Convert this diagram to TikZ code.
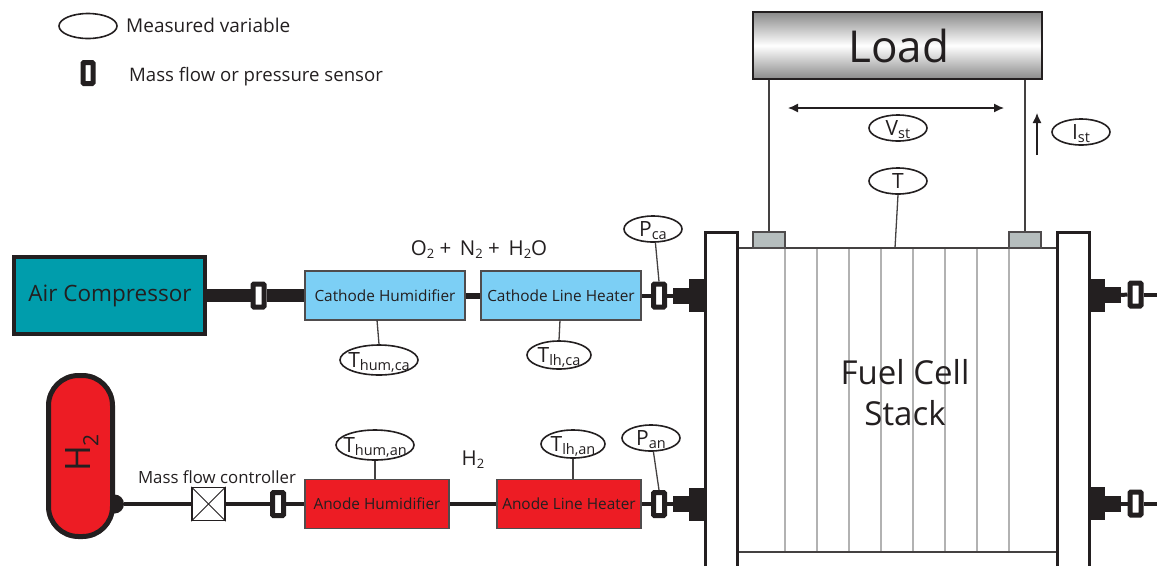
\documentclass[tikz,border=0pt]{standalone}
\usepackage{fontspec}
\setmainfont{Open Sans}
\usetikzlibrary{shapes.geometric,arrows.meta}

% Text of a measured variable, kept from stretching its ellipse
\newcommand{\meas}[2]{\makebox[0pt][c]{\raisebox{-7pt}[0pt][0pt]{#1\raisebox{-3pt}{\fontsize{14.5}{14.5}\selectfont #2}}}}
\newcommand{\gasname}[2]{#1\raisebox{-3pt}{\fontsize{13}{13}\selectfont #2}}

\tikzset{
	measvar/.style={draw=inkcolor, line width=1.6pt, ellipse, fill=white, inner sep=0pt, minimum width=58pt, minimum height=26pt, text=inkcolor, font=\fontsize{21}{21}\selectfont},
	sensorbox/.style={draw=inkcolor, line width=5pt, rounded corners=1pt, fill=white, inner sep=0pt, minimum width=11pt, minimum height=23pt},
	unitbox/.style={draw=inkcolor!80, line width=1.3pt, inner sep=0pt, minimum width=160pt, minimum height=49pt, text=inkcolor, font=\fontsize{15.4}{15.4}\selectfont},
	portflange/.style={fill=inkcolor, inner sep=0pt, minimum width=17pt, minimum height=33pt},
	portneck/.style={fill=inkcolor, inner sep=0pt, minimum width=16pt, minimum height=16pt},
	pipe/.style={draw=inkcolor, line width=4pt},
	wire/.style={draw=inkcolor!85, line width=1.3pt},
	plate/.style={draw=inkcolor, line width=3pt, line join=miter},
	cellline/.style={draw=black!30, line width=1.1pt},
	flowtip/.style={line width=1.3pt, draw=inkcolor, arrows={-{Latex[length=10pt,width=9pt]}}},
}

\begin{document}
\begin{tikzpicture}[x=1pt,y=-1pt]
	% Define colors for segments
	\definecolor{inkcolor}{RGB}{35, 31, 32}
	\definecolor{aircolor}{RGB}{0, 157, 172}
	\definecolor{cathodecolor}{RGB}{124, 207, 245}
	\definecolor{anodecolor}{RGB}{237, 28, 36}
	\definecolor{terminalcolor}{RGB}{182, 190, 190}
	\definecolor{loadcolor}{RGB}{138, 138, 138}

	\useasboundingbox (0,0) rectangle (1157,566);

	% Legend
	\node[measvar, minimum height=25pt] (legendvar) at (88,26) {};
	\node[anchor=west, text=inkcolor, font=\fontsize{19}{19}\selectfont, inner sep=0pt] (legendvartext) at (126,25) {Measured variable};
	\node[sensorbox, minimum width=10pt, minimum height=21pt] (legendsensor) at (88,73) {};
	\node[anchor=west, text=inkcolor, font=\fontsize{18.6}{18.6}\selectfont, inner sep=0pt] (legendsensortext) at (129,77) {Mass flow or pressure sensor};

	% Load
	\node[draw=inkcolor, line width=1.3pt, top color=loadcolor, bottom color=loadcolor, middle color=white, inner sep=0pt, minimum width=289pt, minimum height=67pt] (load) at (897.5,45.5) {};
	\node[text=inkcolor, font=\fontsize{44}{44}\selectfont] (loadlabel) at (899,46) {Load};

	% Fuel cell stack
	\draw[cellline] (785,248) -- (785,552);
	\draw[cellline] (817,248) -- (817,552);
	\draw[cellline] (849,248) -- (849,552);
	\draw[cellline] (881,248) -- (881,552);
	\draw[cellline] (913,248) -- (913,552);
	\draw[cellline] (945,248) -- (945,552);
	\draw[cellline] (977,248) -- (977,552);
	\draw[cellline] (1009,248) -- (1009,552);
	\node[draw=inkcolor!85, line width=1.3pt, inner sep=0pt, minimum width=320pt, minimum height=304pt] (stack) at (897,400) {};
	\node[align=center, text=inkcolor, font=\fontsize{33}{41}\selectfont] (stacklabel) at (905,393) {Fuel Cell\\Stack};

	% End plates
	\draw[plate] (705,566) -- (705,232) -- (737,232) -- (737,566);
	\draw[plate] (1057,566) -- (1057,232) -- (1089,232) -- (1089,566);

	% Terminals and wires to the load
	\node[draw=inkcolor!80, line width=1.2pt, fill=terminalcolor, inner sep=0pt, minimum width=32pt, minimum height=16pt] (termleft) at (769,240) {};
	\node[draw=inkcolor!80, line width=1.2pt, fill=terminalcolor, inner sep=0pt, minimum width=32pt, minimum height=16pt] (termright) at (1025,240) {};
	\draw[wire] (load.south -| termleft) -- (termleft);
	\draw[wire] (load.south -| termright) -- (termright);
	\coordinate (vleft) at (788,108);
	\coordinate (vright) at (1004,108);
	\draw[flowtip, arrows={{Latex[length=10pt,width=9pt]}-{Latex[length=10pt,width=9pt]}}] (vleft) -- (vright);
	\coordinate (ibottom) at (1037,155);
	\coordinate (itop) at (1037,113);
	\draw[flowtip] (ibottom) -- (itop);
	\node[measvar] (vst) at (898,128) {\meas{V}{st}};
	\node[measvar] (ist) at (1081,132) {\meas{I}{st}};
	\node[measvar] (tstack) at (898,181) {\meas{T}{}};
	\coordinate (tstackend) at (895,248);
	\draw[wire] (tstack.south) -- (tstackend);

	% Cathode line
	\node[draw=inkcolor, line width=4pt, fill=aircolor, inner sep=0pt, minimum width=191pt, minimum height=77pt] (compressor) at (109.5,295) {};
	\node[text=inkcolor, font=\fontsize{22.5}{22.5}\selectfont] (compressorlabel) at (110,296) {Air Compressor};
	\node[sensorbox] (sensorair) at (258.5,295.5) {};
	\node[unitbox, fill=cathodecolor] (cathhum) at (385,295.5) {Cathode Humidifier};
	\node[unitbox, fill=cathodecolor] (cathheat) at (561,295.5) {Cathode Line Heater};
	\node[sensorbox] (sensorca) at (659,295.5) {};
	\node[portneck] (neckca) at (681,295.5) {};
	\node[portflange] (flangeca) at (697,295.5) {};
	\draw[pipe, line width=13pt] (compressor.east |- sensorair) -- (sensorair);
	\draw[pipe, line width=13pt] (sensorair) -- (cathhum);
	\draw[pipe, line width=6pt] (cathhum) -- (cathheat);
	\draw[pipe] (cathheat) -- (sensorca);
	\draw[pipe] (sensorca) -- (neckca);
	\node[anchor=center, text=inkcolor, font=\fontsize{20.5}{20.5}\selectfont] (gasca) at (479,250) {\gasname{O}{2} + \,\gasname{N}{2} + \,\gasname{H}{2}O};

	\node[measvar, minimum width=78pt, minimum height=30pt] (thumca) at (379,360) {\meas{T}{hum,ca}};
	\coordinate (thumcaend) at (377,320);
	\draw[wire] (thumca.north) -- (thumcaend);
	\node[measvar, minimum width=64pt, minimum height=28pt] (tlhca) at (559,355) {\meas{T}{lh,ca}};
	\coordinate (tlhcaend) at (560,320);
	\draw[wire] (tlhca.north) -- (tlhcaend);
	\node[measvar] (pca) at (653,229) {\meas{P}{ca}};
	\draw[wire] (pca.280) -- (sensorca.north);

	% Anode line
	\node[circle, fill=inkcolor, inner sep=0pt, minimum size=19pt] (tankvalve) at (114.5,504) {};
	\node[draw=inkcolor, line width=5pt, fill=anodecolor, rounded corners=30pt, inner sep=0pt, minimum width=64pt, minimum height=161pt] (tank) at (80.5,456) {};
	\node[rotate=90, text=inkcolor, font=\fontsize{35}{35}\selectfont] (tanklabel) at (82,453) {H\raisebox{-8pt}{\fontsize{21}{21}\selectfont 2}};
	\node[draw=inkcolor, line width=1.3pt, fill=white, inner sep=0pt, minimum size=33pt] (mfc) at (208.5,504) {};
	\draw[line width=1pt, draw=inkcolor] (mfc.north west) -- (mfc.south east);
	\draw[line width=1pt, draw=inkcolor] (mfc.north east) -- (mfc.south west);
	\node[text=inkcolor, font=\fontsize{16.8}{16.8}\selectfont] (mfclabel) at (217,477) {Mass flow controller};
	\node[sensorbox] (sensormfc) at (278,504) {};
	\node[unitbox, fill=anodecolor, minimum width=144pt] (anhum) at (377,504) {Anode Humidifier};
	\node[unitbox, fill=anodecolor, minimum width=144pt] (anheat) at (569,504) {Anode Line Heater};
	\node[sensorbox] (sensoran) at (659,504) {};
	\node[portneck] (neckan) at (681,504) {};
	\node[portflange] (flangean) at (697,504) {};
	\draw[pipe] (tankvalve) -- (mfc);
	\draw[pipe] (mfc) -- (sensormfc);
	\draw[pipe] (sensormfc) -- (anhum);
	\draw[pipe] (anhum) -- (anheat);
	\draw[pipe] (anheat) -- (sensoran);
	\draw[pipe] (sensoran) -- (neckan);
	\node[text=inkcolor, font=\fontsize{20.5}{20.5}\selectfont] (gasan) at (473,460) {\gasname{H}{2}};

	\node[measvar, minimum width=78pt, minimum height=30pt] (thuman) at (375,445) {\meas{T}{hum,an}};
	\draw[wire] (thuman.south) -- (thuman.south |- anhum.north);
	\node[measvar, minimum width=64pt, minimum height=28pt] (tlhan) at (573,444) {\meas{T}{lh,an}};
	\draw[wire] (tlhan.south) -- (tlhan.south |- anheat.north);
	\node[measvar] (pan) at (651,438) {\meas{P}{an}};
	\draw[wire] (pan.280) -- (sensoran.north);

	% Outlet side
	\node[portflange, minimum width=16pt] (flangeoutca) at (1097,295) {};
	\node[portneck] (neckoutca) at (1113,295) {};
	\node[sensorbox] (sensoroutca) at (1135.5,294.5) {};
	\coordinate (outca) at (1157,294.5);
	\draw[pipe] (neckoutca) -- (sensoroutca);
	\draw[pipe] (sensoroutca) -- (outca);
	\node[portflange, minimum width=16pt] (flangeoutan) at (1097,503.5) {};
	\node[portneck] (neckoutan) at (1113,503.5) {};
	\node[sensorbox] (sensoroutan) at (1135.5,503.5) {};
	\coordinate (outan) at (1157,503.5);
	\draw[pipe] (neckoutan) -- (sensoroutan);
	\draw[pipe] (sensoroutan) -- (outan);
\end{tikzpicture}
\end{document}
